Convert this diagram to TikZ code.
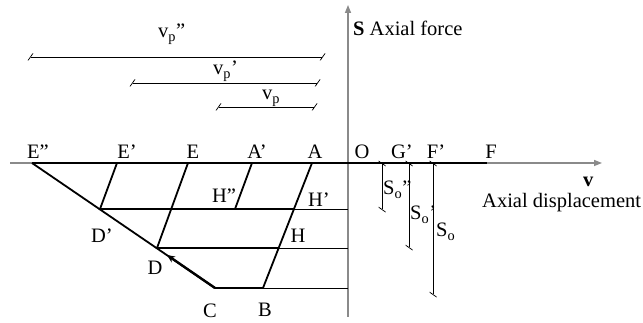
\documentclass[tikz,border=0pt]{standalone}
\usepackage{fontspec}
\setmainfont{Liberation Serif}
\usetikzlibrary{arrows.meta,positioning}
\definecolor{axisgray}{HTML}{8A8A8A}
\tikzset{
  axis/.style={draw=axisgray, line width=1.4pt, -{Triangle[length=8pt,width=6pt]}},
  thk/.style={draw=black, line width=1.8pt},
  thn/.style={draw=black, line width=0.9pt},
  dim/.style={draw=black, line width=0.9pt,
              {Bar[width=7pt,slant=0.7]}-{Bar[width=7pt,slant=0.7]}},
  push/.style={draw=black, line width=2.4pt, -{Stealth[length=8pt,width=7pt]}},
  lbl/.style={font=\fontsize{20.5}{24}\selectfont, inner sep=0pt},
}

\begin{document}
\begin{tikzpicture}[x=1pt,y=-1pt]
\useasboundingbox (0,0) rectangle (643,323);
% axes
\coordinate (xl) at (10,163);
\coordinate (xr) at (602,163);
\coordinate (yb) at (348,317);
\coordinate (yt) at (348,5);
% points on the displacement axis
\coordinate (E2) at (32,163);
\coordinate (E1) at (117,163);
\coordinate (E)  at (188,163);
\coordinate (A1) at (252,163);
\coordinate (A)  at (312,163);
\coordinate (F)  at (487,163);
% path points
\coordinate (D1) at (100,209);
\coordinate (H2) at (235,209);
\coordinate (H1) at (294,209);
\coordinate (D)  at (157,248);
\coordinate (H)  at (279,248);
\coordinate (C)  at (215,288);
\coordinate (B)  at (263,288);
\coordinate (Dt) at (167,255);
% ends on the force axis
\coordinate (yH1) at (348,209);
\coordinate (yH)  at (348,248);
\coordinate (yB)  at (348,288);
% dimension ends
\coordinate (s2t) at (382,163); \coordinate (s2b) at (382,210);
\coordinate (s1t) at (409,163); \coordinate (s1b) at (409,248);
\coordinate (s0t) at (433,163); \coordinate (s0b) at (433,295);
\coordinate (p2l) at (30,57);   \coordinate (p2r) at (323,57);
\coordinate (p1l) at (132,83);  \coordinate (p1r) at (318,83);
\coordinate (p0l) at (218,107); \coordinate (p0r) at (315,107);

\draw[axis] (xl) -- (xr);
\draw[axis] (yb) -- (yt);

% loading path
\draw[thk] (E2) -- (F);
\draw[thk] (E2) -- (C) -- (B) -- (A);
\draw[thk] (E1) -- (D1) -- (H1);
\draw[thk] (E) -- (D) -- (H);
\draw[thk] (A1) -- (H2);
\draw[push] (C) -- (Dt);
\draw[thn] (H1) -- (yH1);
\draw[thn] (H) -- (yH);
\draw[thn] (B) -- (yB);

% dimensions
\draw[dim] (p2l) -- (p2r);
\draw[dim] (p1l) -- (p1r);
\draw[dim] (p0l) -- (p0r);
\draw[dim] (s2t) -- (s2b);
\draw[dim] (s1t) -- (s1b);
\draw[dim] (s0t) -- (s0b);

% labels
\node[lbl] (lE2) at (38,152) {E”};
\node[lbl] (lE1) at (127,152) {E’};
\node[lbl] (lE)  at (193,152) {E};
\node[lbl] (lA1) at (257,152) {A’};
\node[lbl] (lA)  at (315,152) {A};
\node[lbl] (lO)  at (362,152) {O};
\node[lbl] (lG1) at (402,152) {G’};
\node[lbl] (lF1) at (436,152) {F’};
\node[lbl] (lF)  at (491,152) {F};
\node[lbl] (lH2) at (224,196) {H”};
\node[lbl] (lH1) at (319,200) {H’};
\node[lbl] (lH)  at (298,236) {H};
\node[lbl] (lD1) at (102,236) {D’};
\node[lbl] (lD)  at (155,268) {D};
\node[lbl] (lC)  at (210,311) {C};
\node[lbl] (lB)  at (265,310) {B};
\node[lbl,anchor=base west] (lvp2) at (158,38)  {v\textsubscript{p}”};
\node[lbl,anchor=base west] (lvp1) at (213,75)  {v\textsubscript{p}’};
\node[lbl,anchor=base west] (lvp0) at (262,100) {v\textsubscript{p}};
\node[lbl,anchor=base west] (lso2) at (383,195) {S\textsubscript{o}”};
\node[lbl,anchor=base west] (lso1) at (410,220) {S\textsubscript{o}’};
\node[lbl,anchor=base west] (lso0) at (436,237) {S\textsubscript{o}};
\node[lbl,anchor=base west] (lS)   at (353,36)  {\textbf{S} Axial force};
\node[lbl,anchor=base west] (lv)   at (583,187) {\textbf{v}};
\node[lbl,anchor=base west] (lxd)  at (482,208) {Axial displacement};
\end{tikzpicture}
\end{document}
